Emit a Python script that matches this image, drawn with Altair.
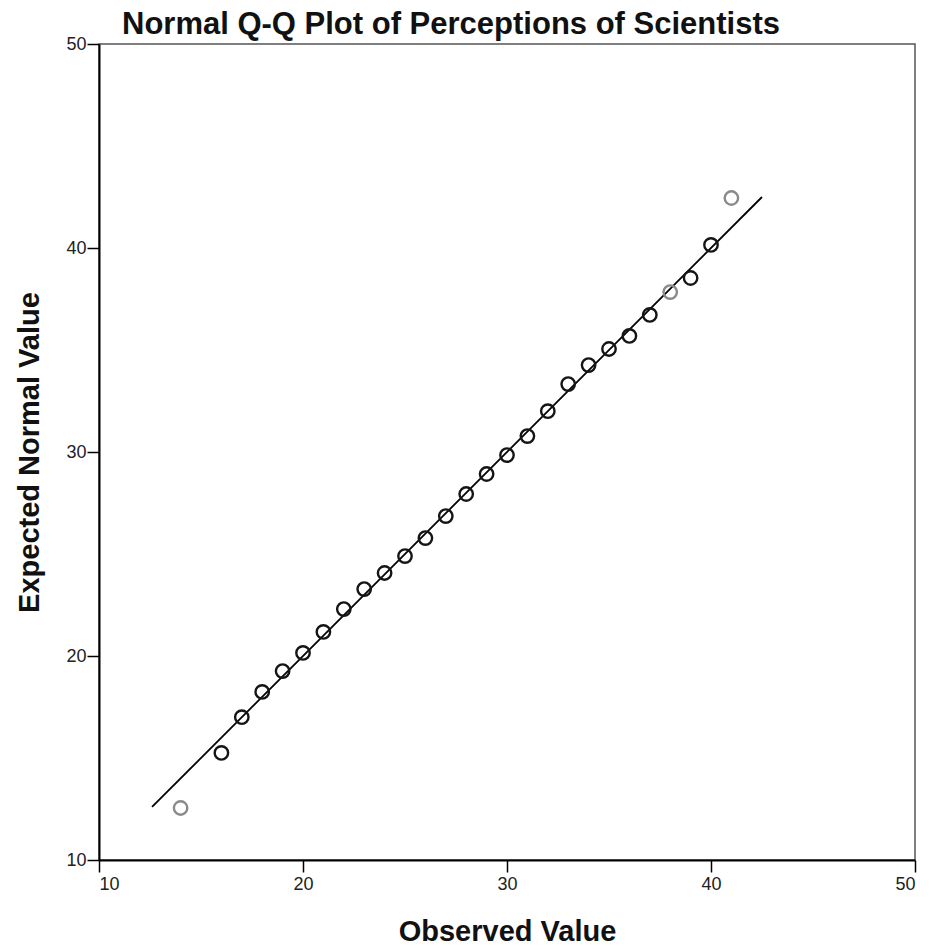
import altair as alt
import pandas as pd

observed = [14, 16, 17, 18, 19, 20, 21, 22, 23, 24, 25, 26, 27, 28, 29, 30,
            31, 32, 33, 34, 35, 36, 37, 38, 39, 40, 41]
expected = [12.55, 15.25, 17.0, 18.24, 19.26, 20.15, 21.18, 22.3, 23.28, 24.07,
            24.9, 25.78, 26.86, 27.94, 28.92, 29.85, 30.78, 32.0, 33.33, 34.26,
            35.05, 35.69, 36.72, 37.84, 38.53, 40.15, 42.45]
shade = ["light", "dark", "dark", "dark", "dark", "dark", "dark", "dark", "dark",
         "dark", "dark", "dark", "dark", "dark", "dark", "dark", "dark", "dark",
         "dark", "dark", "dark", "dark", "dark", "light", "dark", "dark", "light"]

line_x = [12.6, 42.5]
line_y = [12.6, 42.5]

pts = pd.DataFrame({"obs": observed, "exp": expected, "shade": shade})
ln = pd.DataFrame({"obs": line_x, "exp": line_y})

xs = alt.Scale(domain=[10, 50], nice=False, zero=False)
ys = alt.Scale(domain=[10, 50], nice=False, zero=False)

axis_common = dict(
    values=[10, 20, 30, 40, 50],
    grid=False,
    domainColor="black",
    domainWidth=2,
    tickColor="black",
    tickWidth=1.5,
    tickSize=12,
    labelFont="Liberation Sans",
    labelFontSize=18,
    labelColor="#222222",
    titleFont="Liberation Sans",
    titleFontSize=29,
    titleFontWeight="bold",
    titleColor="#111111",
)

line = alt.Chart(ln).mark_line(color="black", strokeWidth=1.8).encode(
    x=alt.X("obs:Q", scale=xs, title="Observed Value",
            axis=alt.Axis(labelPadding=3, titlePadding=24, **axis_common)),
    y=alt.Y("exp:Q", scale=ys, title="Expected Normal Value",
            axis=alt.Axis(labelPadding=1, titlePadding=21, **axis_common)),
)

points = alt.Chart(pts).mark_point(shape="circle", filled=False, size=180,
                                   strokeWidth=2.4, opacity=1).encode(
    x=alt.X("obs:Q", scale=xs),
    y=alt.Y("exp:Q", scale=ys),
    stroke=alt.Stroke("shade:N", scale=alt.Scale(domain=["dark", "light"], range=["#151515", "#8a8a8a"]), legend=None),
)

chart = (line + points).properties(
    width=816,
    height=816,
    title=alt.TitleParams(
        "Normal Q-Q Plot of Perceptions of Scientists",
        font="Liberation Sans",
        fontSize=31,
        fontWeight="bold",
        color="#111111",
        anchor="start",
        frame="group",
        dx=23,
        dy=12,
        offset=6,
    ),
    autosize=alt.AutoSizeParams(type="none"),
    padding={"left": 91, "top": 36, "right": 5, "bottom": 83},
).configure_view(stroke="#555555", strokeWidth=1.5)

chart.save("out.html", embed_options={"renderer": "svg", "actions": False})
